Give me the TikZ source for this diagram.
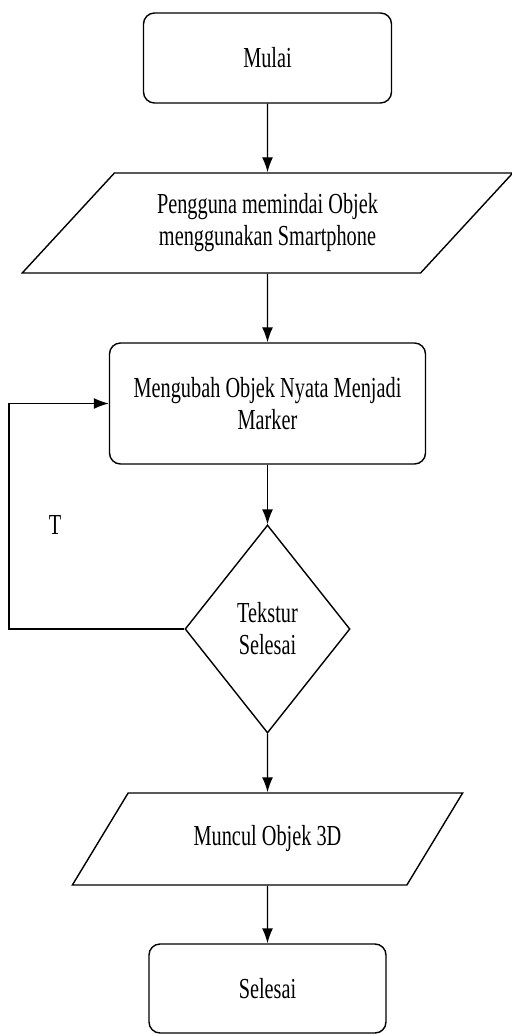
\documentclass[tikz,border=0pt]{standalone}
\usepackage{fontspec}
\setmainfont{Liberation Serif}[FakeStretch=0.7]
\usepackage{tikz}
\usetikzlibrary{arrows.meta,shapes.geometric}
\newcommand{\flowfont}{\fontsize{16.5}{18.2}\selectfont}

\begin{document}
\begin{tikzpicture}[
    >={Latex[length=3mm,width=2.2mm]},
    terminal/.style={draw=black, line width=0.8pt, rounded corners=0.22cm,
      align=center, font=\flowfont},
    io/.style={draw=black, line width=0.8pt, trapezium, trapezium stretches=true,
      align=center, font=\flowfont},
    decision/.style={draw=black, line width=0.8pt, diamond, align=center,
      font=\flowfont, inner sep=0pt},
    flow/.style={draw=black, line width=0.8pt, ->},
]
\useasboundingbox (0,0) rectangle (10.22,-20.68);

% ---------------------------------------------------------
% Main column
% ---------------------------------------------------------
\node[terminal, minimum width=4.96cm, minimum height=1.8cm]
  (mulai) at (5.35,-1.16) {Mulai};

\node[io, trapezium left angle=45, trapezium right angle=135,
  minimum width=9.84cm, minimum height=2cm]
  (scan) at (5.35,-4.46) {Pengguna memindai Objek\\menggunakan Smartphone};

\node[terminal, minimum width=6.32cm, minimum height=2.42cm]
  (marker) at (5.35,-8.07) {Mengubah Objek Nyata Menjadi\\Marker};

\node[decision, minimum width=3.3cm, minimum height=4.16cm]
  (cek) at (5.35,-12.58) {Tekstur\\Selesai};

\node[io, trapezium left angle=50, trapezium right angle=130,
  minimum width=7.82cm, minimum height=1.84cm]
  (hasil) at (5.35,-16.78) {Muncul Objek 3D};

\node[terminal, minimum width=4.74cm, minimum height=1.78cm]
  (selesai) at (5.35,-19.77) {Selesai};

\draw[flow] (mulai) -- (scan);
\draw[flow] (scan) -- (marker);
\draw[flow] (marker) -- (cek);
\draw[flow] (cek) -- (hasil);
\draw[flow] (hasil) -- (selesai);

% ---------------------------------------------------------
% Loop back (T)
% ---------------------------------------------------------
\coordinate (loopcorner) at (0.18,-12.58);
\draw[flow] (cek.west) -- (loopcorner) |- (marker.west);
\node[font=\flowfont] (tlabel) at (1.1,-10.5) {T};

\end{tikzpicture}
\end{document}
